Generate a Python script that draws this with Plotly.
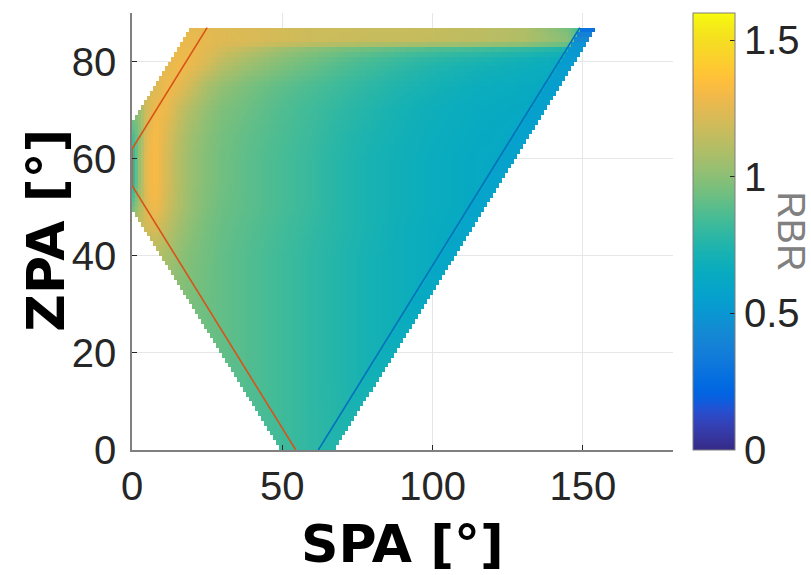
import numpy as np
import plotly.graph_objects as go

# ---- data ----
# RBR table: rows = ZPA (deg), columns = SPA (deg)
tab_spa = [0, 2, 5, 8, 12, 16, 20, 25, 30, 40, 50, 60, 70, 80, 90, 100, 115, 130, 145, 156]
tab_zpa = [0, 15, 30, 40, 46, 50, 55, 60, 65, 70, 75, 79, 81, 82.5, 84, 87]
tab_rbr = [
    [0.92, 0.92, 0.92, 0.92, 0.92, 0.92, 0.92, 0.92, 0.90, 0.87, 0.83, 0.79, 0.76, 0.72, 0.69, 0.66, 0.63, 0.61, 0.59, 0.57],
    [0.94, 0.94, 0.94, 0.94, 0.94, 0.94, 0.94, 0.94, 0.91, 0.87, 0.83, 0.79, 0.75, 0.71, 0.68, 0.65, 0.63, 0.61, 0.59, 0.57],
    [1.00, 1.00, 1.00, 1.00, 1.00, 0.98, 0.96, 0.93, 0.91, 0.87, 0.83, 0.79, 0.75, 0.71, 0.68, 0.65, 0.62, 0.61, 0.59, 0.57],
    [1.10, 1.10, 1.10, 1.10, 1.07, 1.01, 0.97, 0.94, 0.91, 0.87, 0.83, 0.79, 0.75, 0.71, 0.68, 0.65, 0.62, 0.61, 0.59, 0.57],
    [1.10, 1.15, 1.20, 1.22, 1.13, 1.05, 1.00, 0.95, 0.92, 0.88, 0.84, 0.80, 0.76, 0.72, 0.68, 0.65, 0.63, 0.61, 0.59, 0.57],
    [0.90, 1.05, 1.25, 1.30, 1.18, 1.09, 1.02, 0.97, 0.93, 0.89, 0.85, 0.81, 0.76, 0.72, 0.69, 0.66, 0.63, 0.61, 0.59, 0.57],
    [0.72, 0.98, 1.28, 1.32, 1.20, 1.10, 1.03, 0.98, 0.94, 0.89, 0.85, 0.81, 0.76, 0.72, 0.69, 0.66, 0.63, 0.62, 0.60, 0.57],
    [0.72, 0.98, 1.28, 1.32, 1.20, 1.10, 1.03, 0.98, 0.94, 0.89, 0.85, 0.81, 0.76, 0.72, 0.69, 0.66, 0.63, 0.62, 0.61, 0.57],
    [0.85, 0.95, 1.25, 1.32, 1.22, 1.12, 1.05, 0.99, 0.95, 0.90, 0.86, 0.82, 0.77, 0.73, 0.70, 0.67, 0.64, 0.62, 0.61, 0.57],
    [1.00, 1.00, 1.20, 1.30, 1.27, 1.16, 1.09, 1.02, 0.97, 0.92, 0.87, 0.83, 0.79, 0.75, 0.71, 0.68, 0.65, 0.63, 0.61, 0.57],
    [1.20, 1.20, 1.20, 1.22, 1.30, 1.26, 1.18, 1.08, 1.02, 0.95, 0.90, 0.86, 0.82, 0.78, 0.74, 0.71, 0.67, 0.65, 0.63, 0.57],
    [1.25, 1.25, 1.25, 1.25, 1.25, 1.30, 1.27, 1.20, 1.12, 1.03, 0.97, 0.92, 0.87, 0.83, 0.79, 0.75, 0.71, 0.68, 0.65, 0.58],
    [1.28, 1.28, 1.28, 1.28, 1.28, 1.28, 1.28, 1.23, 1.16, 1.07, 1.00, 0.95, 0.90, 0.86, 0.82, 0.79, 0.75, 0.71, 0.67, 0.60],
    [1.28, 1.28, 1.28, 1.28, 1.28, 1.28, 1.28, 1.25, 1.20, 1.13, 1.05, 1.00, 0.96, 0.93, 0.90, 0.87, 0.84, 0.80, 0.74, 0.60],
    [1.27, 1.27, 1.27, 1.27, 1.27, 1.27, 1.27, 1.26, 1.24, 1.22, 1.20, 1.18, 1.17, 1.16, 1.16, 1.15, 1.13, 1.10, 1.00, 0.60],
    [1.26, 1.26, 1.26, 1.26, 1.26, 1.26, 1.26, 1.25, 1.23, 1.22, 1.20, 1.18, 1.18, 1.17, 1.17, 1.16, 1.14, 1.10, 0.95, 0.60],
]
# bluish strip to the right of the blue line
strip_zpa = [0, 20, 40, 60, 78, 83, 85.5, 87]
strip_rbr = [0.76, 0.68, 0.60, 0.57, 0.55, 0.50, 0.38, 0.25]

# edges of the valid (SPA, ZPA) region
edge_zpa = [0, 50, 67.5, 90]
edge_spa_min = [50, 0, 0, 22.5]
edge_spa_max = [67.5, 117.5, 135, 157.5]
zpa_top = 87

# reference lines
red_spa = [54.5, 0, 0, 25]
red_zpa = [0, 54.5, 62, 87]
blue_spa = [62, 149]
blue_zpa = [0, 87]

# ticks
x_ticks = [0, 50, 100, 150]
y_ticks = [0, 20, 40, 60, 80]
cb_ticks = [0, 0.5, 1, 1.5]

# parula(64)
parula = [
    [0.2081, 0.1663, 0.5292], [0.2116, 0.1898, 0.5777], [0.2123, 0.2138, 0.6270], [0.2081, 0.2386, 0.6771],
    [0.1959, 0.2645, 0.7279], [0.1707, 0.2919, 0.7792], [0.1253, 0.3242, 0.8303], [0.0591, 0.3598, 0.8683],
    [0.0117, 0.3875, 0.8820], [0.0060, 0.4086, 0.8828], [0.0165, 0.4266, 0.8786], [0.0329, 0.4430, 0.8720],
    [0.0498, 0.4586, 0.8641], [0.0629, 0.4737, 0.8554], [0.0723, 0.4887, 0.8467], [0.0779, 0.5040, 0.8384],
    [0.0793, 0.5200, 0.8312], [0.0749, 0.5375, 0.8263], [0.0641, 0.5570, 0.8240], [0.0488, 0.5772, 0.8228],
    [0.0343, 0.5966, 0.8199], [0.0265, 0.6137, 0.8135], [0.0239, 0.6287, 0.8038], [0.0231, 0.6418, 0.7913],
    [0.0228, 0.6535, 0.7768], [0.0267, 0.6642, 0.7607], [0.0384, 0.6743, 0.7436], [0.0590, 0.6838, 0.7254],
    [0.0843, 0.6928, 0.7062], [0.1133, 0.7015, 0.6859], [0.1453, 0.7098, 0.6646], [0.1801, 0.7177, 0.6424],
    [0.2178, 0.7250, 0.6193], [0.2586, 0.7317, 0.5954], [0.3022, 0.7376, 0.5712], [0.3482, 0.7424, 0.5473],
    [0.3953, 0.7459, 0.5244], [0.4420, 0.7481, 0.5033], [0.4871, 0.7491, 0.4840], [0.5300, 0.7491, 0.4661],
    [0.5709, 0.7485, 0.4494], [0.6099, 0.7473, 0.4337], [0.6473, 0.7456, 0.4188], [0.6834, 0.7435, 0.4044],
    [0.7184, 0.7411, 0.3905], [0.7525, 0.7384, 0.3768], [0.7858, 0.7356, 0.3633], [0.8185, 0.7327, 0.3498],
    [0.8507, 0.7299, 0.3360], [0.8824, 0.7274, 0.3217], [0.9139, 0.7258, 0.3063], [0.9450, 0.7261, 0.2886],
    [0.9739, 0.7314, 0.2666], [0.9938, 0.7455, 0.2403], [0.9990, 0.7653, 0.2164], [0.9955, 0.7861, 0.1967],
    [0.9880, 0.8066, 0.1794], [0.9789, 0.8271, 0.1633], [0.9697, 0.8481, 0.1475], [0.9626, 0.8705, 0.1309],
    [0.9589, 0.8949, 0.1132], [0.9598, 0.9218, 0.0948], [0.9661, 0.9514, 0.0755], [0.9763, 0.9831, 0.0538],
]
colorscale = [[i / 63, "rgb(%d,%d,%d)" % tuple(int(round(c * 255)) for c in col)] for i, col in enumerate(parula)]

# ---- build 1-degree grid ----
xc = np.arange(0.5, 160, 1.0)
yc = np.arange(0.5, 90, 1.0)
T = np.array(tab_rbr)
rows_fine = np.array([np.interp(xc, tab_spa, r) for r in T])
Z = np.array([np.interp(yc, tab_zpa, rows_fine[:, j]) for j in range(len(xc))]).T

X, Y = np.meshgrid(xc, yc)
lo = np.interp(Y, edge_zpa, edge_spa_min)
hi = np.interp(Y, edge_zpa, edge_spa_max)
blue_at = np.interp(Y, blue_zpa, blue_spa)
strip = np.interp(Y, strip_zpa, strip_rbr)
Z = np.where(X > blue_at, strip, Z)
mask = (X >= lo) & (X <= hi) & (Y <= zpa_top)
Z = np.where(mask, Z, np.nan)

FONT = "Liberation Sans, Arial, Helvetica, sans-serif"
TFONT = "DejaVu Sans, Liberation Sans, Arial, sans-serif"
TXT = "#262626"

fig = go.Figure()
fig.add_trace(go.Heatmap(
    x=xc, y=yc, z=Z, zmin=0, zmax=1.6, colorscale=colorscale, hoverongaps=False,
    colorbar=dict(
        x=1.037, xanchor="left", y=0.5, yanchor="middle", len=1.0, lenmode="fraction",
        thickness=42, thicknessmode="pixels", xpad=0, ypad=0,
        outlinewidth=1, outlinecolor="#7f7f7f",
        tickvals=cb_ticks, ticktext=["0", "0.5", "1", "1.5"],
        ticks="inside", ticklen=5, tickcolor=TXT,
        tickfont=dict(family=FONT, size=40, color=TXT),
    ),
))
fig.add_trace(go.Scatter(x=red_spa, y=red_zpa, mode="lines",
                         line=dict(color="#D95319", width=1.6), showlegend=False, hoverinfo="skip"))
fig.add_trace(go.Scatter(x=blue_spa, y=blue_zpa, mode="lines",
                         line=dict(color="#0072BD", width=1.6), showlegend=False, hoverinfo="skip"))

axis_common = dict(
    showgrid=True, gridcolor="#e6e6e6", gridwidth=1,
    showline=True, linecolor="#808080", linewidth=1.5,
    ticks="inside", ticklen=5, tickcolor=TXT, tickwidth=1,
    tickfont=dict(family=FONT, size=40, color=TXT),
    zeroline=False, mirror=False,
)
fig.update_xaxes(range=[0, 180], tickvals=x_ticks, **axis_common)
fig.update_yaxes(range=[0, 90], tickvals=y_ticks, ticklabelstandoff=6, **axis_common)

fig.update_layout(
    width=811, height=575,
    margin=dict(l=132, r=138, t=13, b=125, pad=0, autoexpand=False),
    plot_bgcolor="white", paper_bgcolor="white",
    showlegend=False,
    annotations=[
        dict(text="<b>SPA [°]</b>", xref="paper", yref="paper", x=0.5, y=-0.2151,
             xanchor="center", yanchor="middle", showarrow=False,
             font=dict(family=TFONT, size=52, color="black")),
        dict(text="<b>ZPA [°]</b>", xref="paper", yref="paper", x=-0.158, y=0.503,
             xanchor="center", yanchor="middle", showarrow=False, textangle=-90,
             font=dict(family=TFONT, size=52, color="black")),
        dict(text="RBR", xref="paper", yref="paper", x=1.218, y=0.501,
             xanchor="center", yanchor="middle", showarrow=False, textangle=90,
             font=dict(family=FONT, size=38, color="#808080")),
    ],
)

fig.write_html("out.html", config={"displayModeBar": False},
               post_script="document.body.style.margin='0px';document.body.style.overflow='hidden';")
